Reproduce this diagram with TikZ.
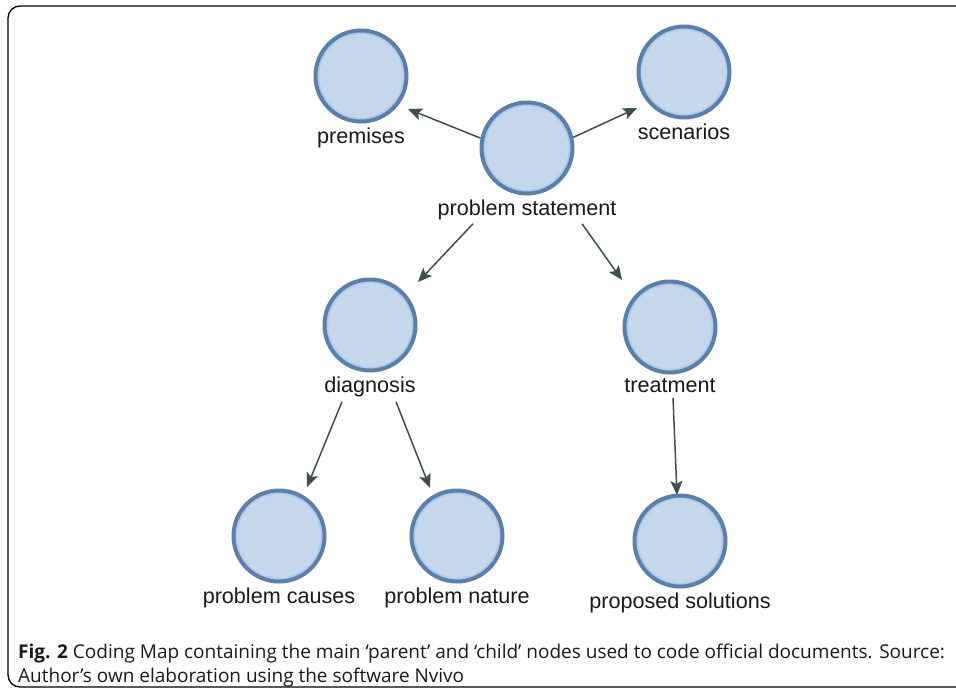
\documentclass[tikz,border=0pt]{standalone}
\usepackage{fontspec}
\setmainfont{Liberation Sans}
\newfontfamily\capfont{Open Sans}
\usepackage{tikz}
\usetikzlibrary{arrows.meta, positioning}

\definecolor{ringdark}{HTML}{5B7FA8}
\definecolor{ringlight}{HTML}{A9CBF0}
\definecolor{codefill}{HTML}{C6D7EB}
\definecolor{linkgrey}{HTML}{3E4F4F}

\begin{document}
\begin{tikzpicture}[x=1pt, y=-1pt,
                codenode/.style={circle, draw=ringdark, line width=4pt, fill=codefill,
                               minimum size=91pt, inner sep=0pt,
                               path picture={\draw[ringlight, line width=1.6pt]
                                   (path picture bounding box.center) circle (42.6pt);}},
                codelabel/.style={font=\fontsize{21.6}{24}\selectfont, text=black!90,
                               inner sep=1pt, below=3pt of #1},
                link/.style={-{Stealth[length=14pt, width=12pt, inset=3pt]},
                             line width=1.5pt, linkgrey},
                frame/.style={line width=1.3pt, rounded corners=12pt}]

                \useasboundingbox (0,0) rectangle (956,689);

                % outer frame, open on the right
                \draw[frame] (956,6) -- (8,6) -- (8,687) -- (956,687);

                % problem statement at the centre top
                \node[codenode] (stmt) at (527,148) {};
                \node[codelabel=stmt] (stmtlbl) {problem statement};

                % first row: premises and scenarios
                \node[codenode] (prem) at (361,76) {};
                \node[codelabel=prem] (premlbl) {premises};
                \node[codenode] (scen) at (684,72) {};
                \node[codelabel=scen] (scenlbl) {scenarios};

                % second row: diagnosis and treatment
                \node[codenode] (diag) at (370,325) {};
                \node[codelabel=diag] (diaglbl) {diagnosis};
                \node[codenode] (treat) at (670,327) {};
                \node[codelabel=treat] (treatlbl) {treatment};

                % third row
                \node[codenode] (causes) at (279,536) {};
                \node[codelabel=causes] (causeslbl) {problem causes};
                \node[codenode] (nature) at (457,536) {};
                \node[codelabel=nature] (naturelbl) {problem nature};
                \node[codenode] (solut) at (680,541) {};
                \node[codelabel=solut] (solutlbl) {proposed solutions};

                % links from the statement
                \draw[link] (stmt.168) -- ([shift={(47,33)}]prem.center);
                \draw[link] (stmt.13) -- ([shift={(-47,36)}]scen.center);
                \draw[link] ([shift={(-54,14)}]stmtlbl.center) -- ([shift={(48,-43)}]diag.center);
                \draw[link] ([shift={(55,14)}]stmtlbl.center) -- ([shift={(-48,-47)}]treat.center);

                % links to the children
                \draw[link] ([shift={(-28,15)}]diaglbl.center) -- ([shift={(28,-49)}]causes.center);
                \draw[link] ([shift={(26,15)}]diaglbl.center) -- ([shift={(-27,-48)}]nature.center);
                \draw[link] ([shift={(3,12)}]treatlbl.center) -- ([shift={(-3,-46)}]solut.center);

                % caption
                \node[anchor=north west, align=left, inner sep=0pt,
                      font=\capfont\fontsize{19}{24}\selectfont, text=black!90] (caption) at (18,644)
                    {\textbf{Fig. 2} Coding Map containing the main ‘parent’ and ‘child’ nodes used to code official documents. Source:\\
                     Author’s own elaboration using the software Nvivo};
            \end{tikzpicture}
\end{document}
